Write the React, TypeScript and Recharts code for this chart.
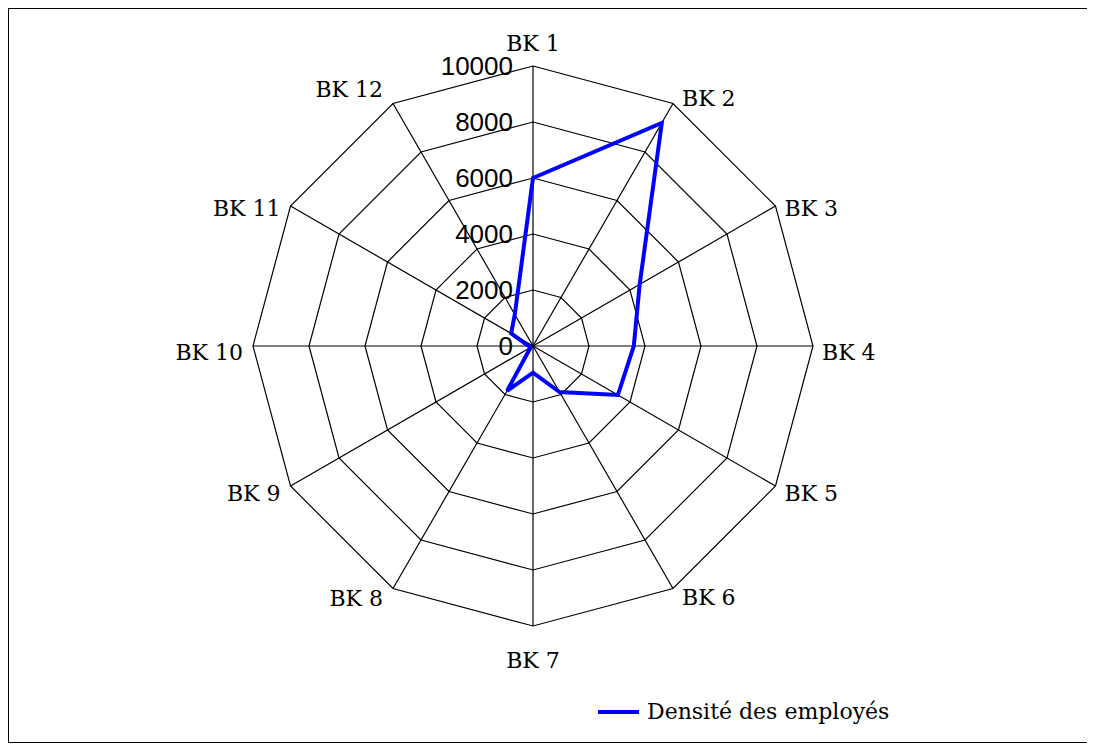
import { RadarChart, Radar, PolarGrid, PolarAngleAxis, PolarRadiusAxis, Legend } from "recharts";

const categories = ["BK 1", "BK 2", "BK 3", "BK 4", "BK 5", "BK 6", "BK 7", "BK 8", "BK 9", "BK 10", "BK 11", "BK 12"];
const density = [6000, 9200, 4400, 3600, 3500, 1900, 950, 1850, 100, 150, 900, 1300];
const radiusTicks = [0, 2000, 4000, 6000, 8000, 10000];

const data = categories.map((name, i) => ({ name, density: density[i] }));

const CX = 524;
const CY = 337;
const R = 280;
const serif = "'DejaVu Serif', serif";
// vertical nudge of each outer label, as in the original layout
const labelDy = [-23, -5, 2, 6, 7, 9, 34, 10, 7, 6, 2, -14];

const AngleTick = (props: any) => {
  const { index, payload } = props;
  const a = (index * 30 * Math.PI) / 180;
  const ux = Math.sin(a);
  const uy = -Math.cos(a);
  const ex = CX + R * ux;
  const ey = CY + R * uy;
  let x = ex;
  let anchor = "middle";
  if (ux > 0.1) {
    anchor = "start";
    x = ex + 9;
  } else if (ux < -0.1) {
    anchor = "end";
    x = ex - 10;
  }
  const y = ey + (labelDy[index] ?? 0);
  return (
    <text x={x} y={y} textAnchor={anchor} dominantBaseline="central" fontFamily={serif} fontSize={22} fill="#000">
      {payload.value}
    </text>
  );
};

const RadiusTick = (props: any) => {
  const { x, y, payload } = props;
  return (
    <text x={x - 20} y={y} textAnchor="end" dominantBaseline="central" fontFamily="'Liberation Sans', Arial, sans-serif" fontSize={26} fill="#000">
      {payload.value}
    </text>
  );
};

const LegendContent = () => (
  <div style={{ display: "flex", alignItems: "center", fontFamily: serif, fontSize: 22, color: "#000" }}>
    <svg width={49} height={10}>
      <line x1={0} y1={5} x2={41} y2={5} stroke="#0000FF" strokeWidth={4} />
    </svg>
    <span>Densité des employés</span>
  </div>
);

export default function App() {
  return (
    <div style={{ width: 1080, height: 735, border: "1px solid #000", boxSizing: "border-box", background: "#fff" }}>
      <RadarChart width={1078} height={733} cx={CX} cy={CY} outerRadius={R} data={data} startAngle={90} endAngle={-270}>
        <PolarGrid gridType="polygon" stroke="#000" strokeWidth={1.2} strokeOpacity={1} />
        <PolarAngleAxis dataKey="name" tick={AngleTick} tickLine={false} axisLine={false} />
        <PolarRadiusAxis
          angle={90}
          domain={[0, 10000]}
          ticks={radiusTicks}
          tick={RadiusTick}
          axisLine={false}
          tickLine={false}
        />
        <Radar
          name="Densité des employés"
          dataKey="density"
          stroke="#0000FF"
          strokeWidth={4}
          fill="none"
          fillOpacity={0}
          dot={false}
          isAnimationActive={false}
        />
        <Legend content={LegendContent} wrapperStyle={{ position: "absolute", left: 589, top: 690, width: "auto" }} />
      </RadarChart>
    </div>
  );
}
